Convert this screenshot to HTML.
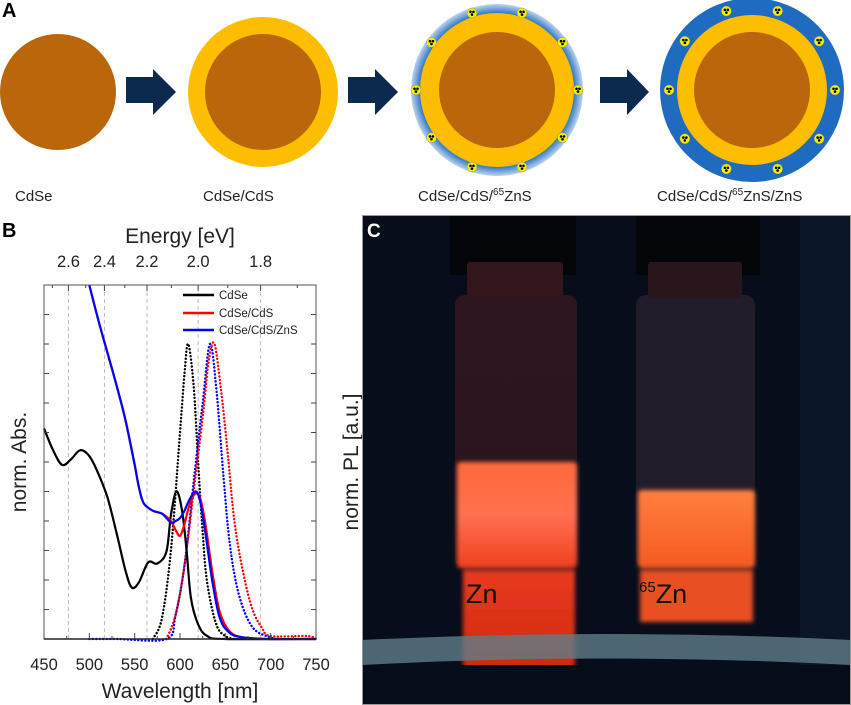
<!DOCTYPE html>
<html><head><meta charset="utf-8"><style>
html,body{margin:0;padding:0;background:#fff;}
svg{display:block;font-family:"Liberation Sans",sans-serif;}
</style></head><body>
<svg id="fig" width="851" height="705" viewBox="0 0 851 705">
<defs>
<radialGradient id="glow" cx="50%" cy="50%" r="50%"><stop offset="88%" stop-color="#1f6bc0"/><stop offset="100%" stop-color="#bcd4ee"/></radialGradient>
<linearGradient id="liq1" x1="0" y1="0" x2="0" y2="1"><stop offset="0" stop-color="#ff6a3a"/><stop offset="0.5" stop-color="#ff7050"/><stop offset="1" stop-color="#f04020"/></linearGradient>
<linearGradient id="liq2" x1="0" y1="0" x2="0" y2="1"><stop offset="0" stop-color="#ff8040"/><stop offset="1" stop-color="#f55a20"/></linearGradient>
<linearGradient id="refl" x1="0" y1="0" x2="0" y2="1"><stop offset="0" stop-color="#e83a20"/><stop offset="1" stop-color="#d02a10"/></linearGradient>
<linearGradient id="glass" x1="0" y1="0" x2="0" y2="1"><stop offset="0" stop-color="#2e1620"/><stop offset="1" stop-color="#28141e"/></linearGradient>
<filter id="blur2"><feGaussianBlur stdDeviation="2"/></filter>
</defs>

<!-- Panel A -->
<g>
<text x="2" y="17" font-size="20" font-weight="bold">A</text>
<circle cx="58" cy="92" r="58" fill="#ba670b"/>
<polygon points="126,77 153,77 153,69 176,92 153,115 153,103 126,103" fill="#0c2a50"/>
<circle cx="263" cy="92" r="75" fill="#fdbd01"/>
<circle cx="263" cy="92" r="58" fill="#ba670b"/>
<polygon points="348,77 375,77 375,69 398,92 375,115 375,103 348,103" fill="#0c2a50"/>
<circle cx="497" cy="90" r="86" fill="url(#glow)"/>
<circle cx="497" cy="90" r="77" fill="#fdbd01"/>
<circle cx="497" cy="90" r="58" fill="#ba670b"/>
<polygon points="600,77 627,77 627,69 649,92 627,115 627,103 600,103" fill="#0c2a50"/>
<circle cx="752" cy="90" r="92" fill="#1f6bc0"/>
<circle cx="752" cy="90" r="75" fill="#fdbd01"/>
<circle cx="752" cy="90" r="58" fill="#ba670b"/>
<g id="rad"></g>
<text x="15" y="201" font-size="15" fill="#222">CdSe</text>
<text x="203" y="201" font-size="15" fill="#222">CdSe/CdS</text>
<text x="418" y="201" font-size="15" fill="#222">CdSe/CdS/<tspan font-size="10" dy="-6">65</tspan><tspan dy="6">ZnS</tspan></text>
<text x="657" y="201" font-size="15" fill="#222">CdSe/CdS/<tspan font-size="10" dy="-6">65</tspan><tspan dy="6">ZnS/ZnS</tspan></text>
</g>

<!-- Panel B -->
<g id="chart">
<text x="2" y="237" font-size="20" font-weight="bold">B</text>
<text x="180" y="243" font-size="21" text-anchor="middle" fill="#222">Energy [eV]</text>
<text x="180" y="698" font-size="21" text-anchor="middle" fill="#222">Wavelength [nm]</text>
<text transform="translate(26,462) rotate(-90)" font-size="21" text-anchor="middle" fill="#222">norm. Abs.</text>
<text transform="translate(358,462) rotate(-90)" font-size="21" text-anchor="middle" fill="#222">norm. PL [a.u.]</text>
<g id="grid"></g><g id="series"></g><g id="axes"></g>
<g>
<line x1="183" y1="295" x2="214" y2="295" stroke="#000" stroke-width="2.5"/><text x="219" y="299" font-size="11.5" fill="#222">CdSe</text>
<line x1="183" y1="313" x2="214" y2="313" stroke="#f00" stroke-width="2.5"/><text x="219" y="317" font-size="11.5" fill="#222">CdSe/CdS</text>
<line x1="183" y1="330" x2="214" y2="330" stroke="#00f" stroke-width="2.5"/><text x="219" y="334" font-size="11.5" fill="#222">CdSe/CdS/ZnS</text>
</g>
</g>

<!-- Panel C -->
<g>
<rect x="362" y="215" width="489" height="490" fill="#080d1c"/>
<rect x="450" y="215" width="126" height="60" fill="#030509"/>
<rect x="636" y="215" width="124" height="60" fill="#030509"/>
<rect x="800" y="215" width="51" height="490" fill="#0b1528"/>
<rect x="455" y="295" width="122" height="273" rx="10" fill="url(#glass)"/>
<rect x="467" y="262" width="96" height="36" rx="3" fill="#33161c"/>
<rect x="636" y="295" width="119" height="273" rx="10" fill="#221c2a"/>
<rect x="648" y="262" width="94" height="36" rx="3" fill="#28161c"/>
<g filter="url(#blur2)">
<rect x="457" y="462" width="120" height="106" rx="4" fill="url(#liq1)"/>
<rect x="638" y="490" width="117" height="78" rx="4" fill="url(#liq2)"/>
<rect x="463" y="570" width="112" height="98" fill="url(#refl)"/>
<rect x="640" y="570" width="113" height="52" fill="#e85020"/>
</g>
<path d="M362,640 Q606,628 851,640 L851,665 Q606,652 362,665 Z" fill="#5f7e88" opacity="0.8"/>
<rect x="362" y="665" width="489" height="40" fill="#060c18"/>
<text x="466" y="603" font-size="27" fill="#111">Zn</text>
<text x="639" y="603" font-size="27" fill="#111"><tspan font-size="15" dy="-11">65</tspan><tspan dy="11">Zn</tspan></text>
<text x="367" y="237" font-size="19" font-weight="bold" fill="#fff">C</text>
<rect x="362.5" y="215.5" width="488" height="489" fill="none" stroke="#999" stroke-width="1"/>
</g>
</svg>
<script>
// ---- chart data ----
const wlTicks=[450,500,550,600,650,700,750];
const evTicks=[2.6,2.4,2.2,2.0,1.8];
const evMinor=[2.7,2.5,2.3,2.1,1.9,1.7];
const absCdSeX=[450,460,470,480,490,500,510,520,530,540,547,555,565,575,585,590,596,602,607,612,620,630,650,750];
const absCdSeY=[7.14,6.4,5.9,6.1,6.4,6.2,5.6,4.8,3.6,2.3,1.74,1.94,2.6,2.56,2.96,4.2,5.0,4.4,3.1,1.4,0.5,0.1,0,0];
const absCdSX=[500,510,520,530,540,550,555,560,570,580,590,595,600,605,610,616,622,628,636,644,655,670,700,750];
const absCdSY=[12,10.8,9.7,8.6,7.4,5.9,5.1,4.6,4.35,4.25,4.0,3.7,3.5,3.9,4.5,4.9,4.8,3.9,2.2,0.9,0.25,0.05,0,0];
const absZnSX=[500,510,520,530,540,550,555,560,570,580,590,595,600,605,610,617,622,628,636,644,655,670,700,750];
const absZnSY=[12,10.8,9.7,8.6,7.4,5.9,5.1,4.6,4.35,4.25,3.95,4.0,4.1,4.35,4.7,5.0,4.7,3.6,1.9,0.7,0.2,0.05,0,0];
const plCdSeX=[570,580,590,600,605,609,615,620,625,630,640,650,660];
const plCdSeY=[0,0.7,3,7,9,10,8.6,6,3.6,1.9,0.5,0.1,0];
const plCdSX=[585,595,605,615,625,632,638,645,652,660,670,680,690,700,740,750];
const plCdSY=[0,0.8,2.5,5,7.5,9.5,10,8.5,6.5,4,2.2,1.0,0.4,0.1,0.1,0];
const plZnSX=[500,530,585,595,605,615,625,633,640,648,655,665,680,700,710];
const plZnSY=[0,0,0,0.8,2.5,5.3,8,10,8.5,5.5,3.2,1.5,0.4,0.05,0];

const NS="http://www.w3.org/2000/svg";
const X0=44,X1=316,Y0=639,UNIT=29.5,YTOP=285;
function xs(nm){return X0+(nm-450)*(X1-X0)/300;}
function ys(v){return Y0-v*UNIT;}
function mk(tag,attrs,parent){const e=document.createElementNS(NS,tag);for(const k in attrs)e.setAttribute(k,attrs[k]);parent.appendChild(e);return e;}
function smooth(xa,ya){
  const p=xa.map((x,i)=>[xs(x),ys(ya[i])]);
  let d="M"+p[0][0].toFixed(1)+","+p[0][1].toFixed(1);
  for(let i=0;i<p.length-1;i++){
    const p0=p[i-1]||p[i],p1=p[i],p2=p[i+1],p3=p[i+2]||p2;
    const c1=[p1[0]+(p2[0]-p0[0])/6,p1[1]+(p2[1]-p0[1])/6];
    const c2=[p2[0]-(p3[0]-p1[0])/6,p2[1]-(p3[1]-p1[1])/6];
    d+=" C"+c1.map(v=>v.toFixed(1))+" "+c2.map(v=>v.toFixed(1))+" "+p2[0].toFixed(1)+","+p2[1].toFixed(1);
  }
  return d;
}
const grid=document.getElementById('grid'),ser=document.getElementById('series'),ax=document.getElementById('axes');
evTicks.forEach(e=>{
  const x=xs(1240/e);
  const l=mk('line',{x1:x,y1:YTOP,x2:x,y2:Y0,stroke:'#bbb','stroke-dasharray':'4 3','stroke-width':1},grid);
  
  
  const t=mk('text',{x:x,y:267,'font-size':16.5,'text-anchor':'middle',fill:'#222'},ax);
  t.textContent=e.toFixed(1);
  
  
  mk('line',{x1:x,y1:YTOP,x2:x,y2:YTOP+6,stroke:'#444'},ax);
});
evMinor.forEach(e=>{const x=xs(1240/e);mk('line',{x1:x,y1:YTOP,x2:x,y2:YTOP+3,stroke:'#444'},ax);});
function series(xa,ya,color,dotted,name){
  const a={d:smooth(xa,ya),fill:'none',stroke:color,'stroke-width':dotted?2:2.2,'stroke-linejoin':'round'};
  if(dotted){a['stroke-dasharray']='0.1 3.4';a['stroke-linecap']='round';a['stroke-width']=2.4;}
  const p=mk('path',a,ser);
  
  
}
series(plCdSeX,plCdSeY,'#000',true,'pl-cdse');
series(plZnSX,plZnSY,'#00f',true,'pl-cdse-cds-zns');
series(plCdSX,plCdSY,'#f00',true,'pl-cdse-cds');
series(absCdSeX,absCdSeY,'#000',false,'abs-cdse');
series(absCdSX,absCdSY,'#f00',false,'abs-cdse-cds');
series(absZnSX,absZnSY,'#00f',false,'abs-cdse-cds-zns');
mk('rect',{x:X0,y:YTOP,width:X1-X0,height:Y0-YTOP,fill:'none',stroke:'#555','stroke-width':1},ax);
mk('line',{x1:X0,y1:Y0,x2:X1,y2:Y0,stroke:'#222','stroke-width':1.5},ax);
wlTicks.forEach(w=>{
  const x=xs(w);
  mk('line',{x1:x,y1:Y0,x2:x,y2:Y0-6,stroke:'#444'},ax);
  const t=mk('text',{x:x,y:670,'font-size':16.5,'text-anchor':'middle',fill:'#222'},ax);
  t.textContent=w;
  
  
});
for(let w=475;w<750;w+=50){const x=xs(w);mk('line',{x1:x,y1:Y0,x2:x,y2:Y0-3,stroke:'#444'},ax);}
for(let v=1;v<12;v++){const y=ys(v);
  mk('line',{x1:X0,y1:y,x2:X0+5,y2:y,stroke:'#444'},ax);
  mk('line',{x1:X1,y1:y,x2:X1-5,y2:y,stroke:'#444'},ax);}
// radiation symbols
const rad=document.getElementById('rad');
[[497,90,81],[752,90,83]].forEach(([cx,cy,r])=>{
  for(let k=0;k<10;k++){const a=(18+36*k)*Math.PI/180;const x=cx+r*Math.sin(a),y=cy-r*Math.cos(a);
    const g=mk('g',{},rad);
    
    
    mk('circle',{cx:x,cy:y,r:5,fill:'#f5f000',stroke:'#888','stroke-width':0.5},g);
    mk('circle',{cx:x-1.5,cy:y-1.2,r:1.3,fill:'#000'},g);
    mk('circle',{cx:x+1.5,cy:y-1.2,r:1.3,fill:'#000'},g);
    mk('circle',{cx:x,cy:y+1.6,r:1.3,fill:'#000'},g);}
});
</script>
</body></html>
